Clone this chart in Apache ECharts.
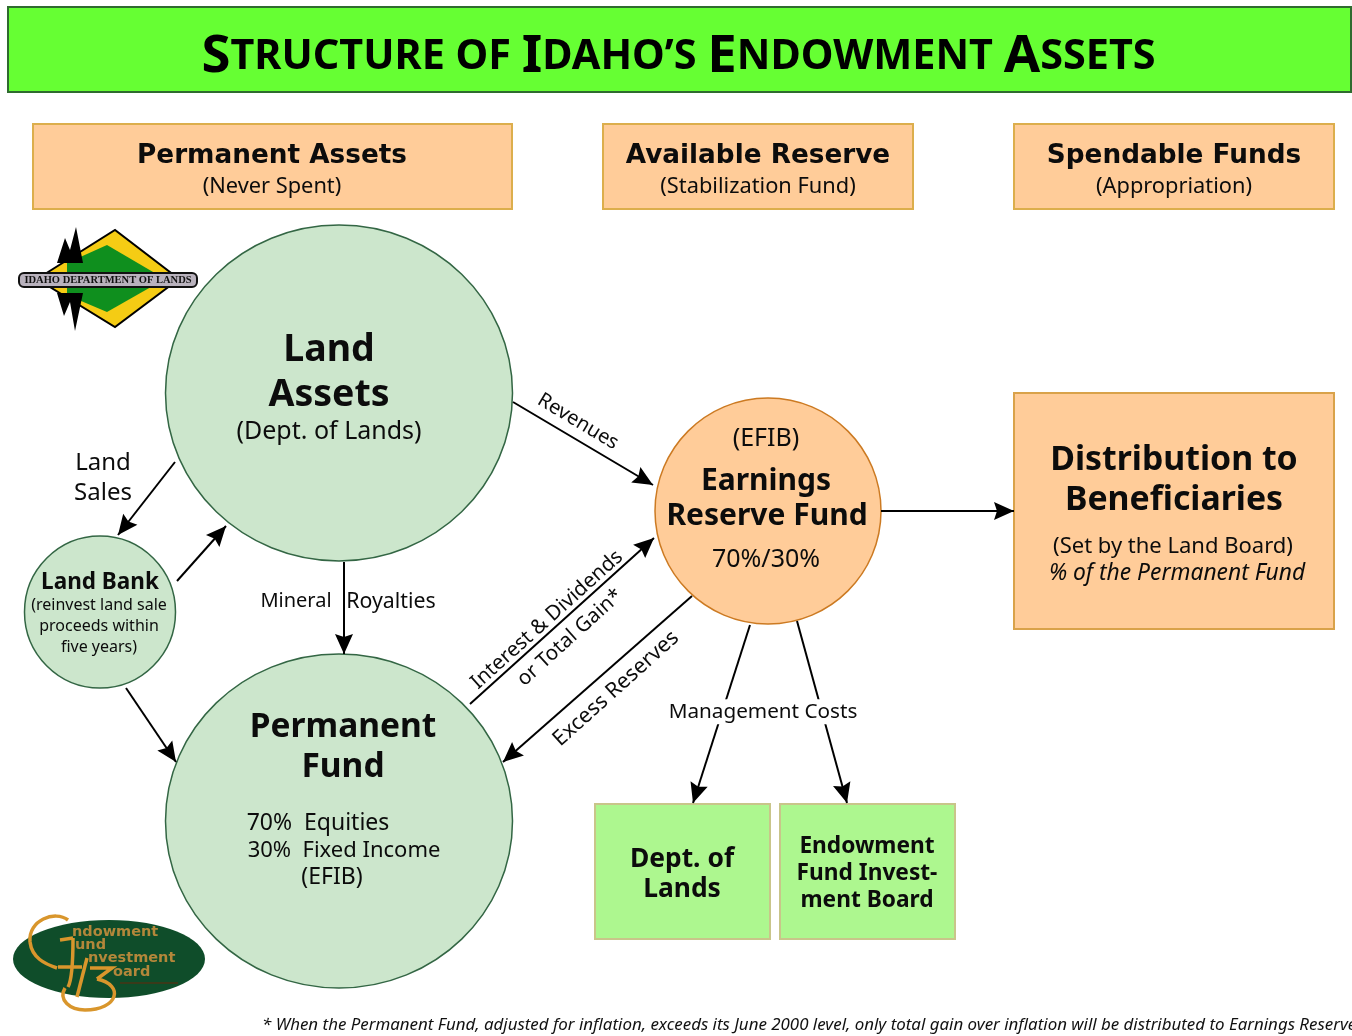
<!DOCTYPE html>
<html>
<head>
<meta charset="utf-8">
<title>Structure of Idaho's Endowment Assets</title>
<script src="https://cdn.jsdelivr.net/npm/echarts@6/dist/echarts.min.js"></script>
<style>
  html, body { margin: 0; padding: 0; background: #fff; }
  #chart { width: 1352px; height: 1036px; }
</style>
</head>
<body>
<div id="chart"></div>
<script>
// texts of the diagram
const titleText = 'Structure of Idaho\u2019s Endowment Assets';
const headerLines = ['Permanent Assets', '(Never Spent)', 'Available Reserve', '(Stabilization Fund)', 'Spendable Funds', '(Appropriation)'];
const landLines = ['Land', 'Assets', '(Dept. of Lands)'];
const landSalesLines = ['Land', 'Sales'];
const landBankLines = ['Land Bank', '(reinvest land sale', 'proceeds within', 'five years)'];
const permanentLines = ['Permanent', 'Fund', '70%  Equities', '30%  Fixed Income', '(EFIB)'];
const earningsLines = ['(EFIB)', 'Earnings', 'Reserve Fund', '70%/30%'];
const distributionLines = ['Distribution to', 'Beneficiaries', '(Set by the Land Board)', '% of the Permanent Fund'];
const deptLines = ['Dept. of', 'Lands'];
const boardLines = ['Endowment', 'Fund Invest-', 'ment Board'];
const flowLines = ['Mineral', 'Royalties', 'Revenues', 'Interest & Dividends', 'or Total Gain*', 'Excess Reserves', 'Management Costs'];
const footnote = '* When the Permanent Fund, adjusted for inflation, exceeds its June 2000 level, only total gain over inflation will be distributed to Earnings Reserve';

// layout, in page pixels
const REG = '"Noto Sans", sans-serif';
const WIDE = '"DejaVu Sans", sans-serif';
// arrow head with its tip at the middle of the path's box, so the tip lands on the line's end
const ARROW_HEAD = 'path://M0,0L9,20L0,17L-9,20Z M-20,-20L-20,-20 M20,20L20,20';

const boxes = [
  // x0, y0, x1, y1, fill, stroke
  [8, 7, 1351, 92, '#66ff33', '#2f6b2f'],
  [33, 124, 512, 209, '#ffcc99', '#dcae4c'],
  [603, 124, 913, 209, '#ffcc99', '#dcae4c'],
  [1014, 124, 1334, 209, '#ffcc99', '#dcae4c'],
  [1014, 393, 1334, 629, '#ffcc99', '#d9a24a'],
  [595, 804, 770, 939, '#adf78f', '#c9c58a'],
  [780, 804, 955, 939, '#adf78f', '#c9c58a']
];
const circles = [
  // cx, cy, rx, ry, fill, stroke
  [339, 393, 173.5, 168, '#cce6cc', '#336644'],
  [339, 821, 173.5, 167, '#cce6cc', '#336644'],
  [100, 612, 75.5, 76, '#cce6cc', '#336644'],
  [768, 511, 113, 113, '#ffcc99', '#cc7a22']
];
const arrows = [
  [[175, 462], [118, 535]],
  [[177, 581], [226, 526]],
  [[126, 688], [176, 762]],
  [[344, 562], [344, 654]],
  [[513, 402], [653, 485]],
  [[470, 704], [654, 538]],
  [[692, 596], [503, 762]],
  [[881, 511], [1014, 511]],
  [[750, 625], [693, 803]],
  [[797, 621], [847, 803]]
];

const textRows = [];
function addLines(lines, spots) {
  lines.forEach(function (line, i) {
    const s = spots[i];
    textRows.push({
      text: line, x: s[0], y: s[1], size: s[2],
      bold: s[3] === 'b' || s[3] === 'h', wide: s[3] === 'h',
      italic: s[3] === 'i', white: s[3] === 'w', angle: s[4] || 0
    });
  });
}
addLines(headerLines, [[272, 154, 26.3, 'h'], [272, 185, 21.8], [758, 154, 26.3, 'h'], [758, 185, 21.8], [1174, 154, 26.3, 'h'], [1174, 185, 21.8]]);
addLines(landLines, [[329, 347, 37.5, 'b'], [329, 392, 37.5, 'b'], [329, 430, 25]]);
addLines(landSalesLines, [[103, 461, 24], [103, 491, 24]]);
addLines(landBankLines, [[100, 581, 22.5, 'b'], [99, 604, 16], [99, 625, 16], [99, 646, 16]]);
addLines(permanentLines, [[343, 725, 33.5, 'b'], [343, 765, 33.5, 'b'], [318, 822, 23], [344, 849, 22], [332, 876, 23]]);
addLines(earningsLines, [[766, 437, 25], [766, 479, 30, 'b'], [767, 514, 30, 'b'], [766, 558, 25]]);
addLines(distributionLines, [[1174, 458, 33.8, 'b'], [1174, 498, 33.8, 'b'], [1173, 545, 22], [1177, 572, 22.8, 'i']]);
addLines(deptLines, [[682, 857, 26.4, 'b'], [682, 887, 26.4, 'b']]);
addLines(boardLines, [[867, 845, 22.7, 'b'], [867, 872, 22.7, 'b'], [867, 899, 22.7, 'b']]);
addLines(flowLines, [[296, 600, 20], [391, 600, 21.3], [578, 420, 20, '', 31], [547, 618, 20.5, '', -42], [570, 636, 20.5, '', -42], [616, 687, 21.4, '', -42], [763, 710, 20.7, 'w']]);

// small capitals: big letter for each capital, small for the rest
function smallCaps(s) {
  return s.split(' ').map(function (word) {
    const first = word[0];
    if (first === first.toUpperCase()) {
      return '{b|' + first + '}{s|' + word.slice(1).toUpperCase() + '}';
    }
    return '{s|' + word.toUpperCase() + '}';
  }).join('{s| }');
}

const chart = echarts.init(document.getElementById('chart'), null, { renderer: 'canvas' });

const indexData = function (arr) { return arr.map(function (_, i) { return i; }); };

function goldStroke(shapeType, shape) {
  return { type: shapeType, z: 7, shape: shape, style: { fill: 'none', stroke: '#d9962c', lineWidth: 3.5 } };
}
function bez(x1, y1, cpx1, cpy1, cpx2, cpy2, x2, y2) {
  return goldStroke('bezierCurve', { x1: x1, y1: y1, cpx1: cpx1, cpy1: cpy1, cpx2: cpx2, cpy2: cpy2, x2: x2, y2: y2 });
}
function badgeWord(word, x, y) {
  return { type: 'text', z: 8, x: x, y: y, style: { text: word, textVerticalAlign: 'middle', font: 'bold 14.5px "DejaVu Sans", sans-serif', fill: '#b3873a' } };
}

const option = {
  backgroundColor: '#ffffff',
  animation: false,
  title: {
    text: smallCaps(titleText),
    left: 673.5,
    top: 22,
    textAlign: 'center',
    z: 10,
    textStyle: {
      rich: {
        b: { fontFamily: REG, fontWeight: 'bold', fontSize: 52.7, color: '#000', lineHeight: 60 },
        s: { fontFamily: REG, fontWeight: 'bold', fontSize: 41.4, color: '#000', lineHeight: 60 }
      }
    }
  },
  grid: { left: 0, right: 0, top: 0, bottom: 0 },
  xAxis: { type: 'value', min: 0, max: 1352, show: false },
  yAxis: { type: 'value', min: 0, max: 1036, inverse: true, show: false },
  series: [
    {
      type: 'custom',
      name: 'boxes',
      coordinateSystem: 'cartesian2d',
      data: indexData(boxes),
      encode: { x: [], y: [] },
      clip: false,
      z: 1,
      renderItem: function (params, api) {
        const b = boxes[params.dataIndex];
        const p0 = api.coord([b[0], b[1]]);
        const p1 = api.coord([b[2], b[3]]);
        return {
          type: 'rect',
          shape: { x: p0[0], y: p0[1], width: p1[0] - p0[0], height: p1[1] - p0[1] },
          style: { fill: b[4], stroke: b[5], lineWidth: 2 }
        };
      }
    },
    {
      type: 'custom',
      name: 'circles',
      coordinateSystem: 'cartesian2d',
      data: indexData(circles),
      encode: { x: [], y: [] },
      clip: false,
      z: 2,
      renderItem: function (params, api) {
        const c = circles[params.dataIndex];
        const p = api.coord([c[0], c[1]]);
        return {
          type: 'ellipse',
          shape: { cx: p[0], cy: p[1], rx: c[2], ry: c[3] },
          style: { fill: c[4], stroke: c[5], lineWidth: 1.5 }
        };
      }
    },
    {
      type: 'lines',
      name: 'flows',
      coordinateSystem: 'cartesian2d',
      polyline: false,
      symbol: ['none', ARROW_HEAD],
      symbolSize: 40,
      z: 3,
      lineStyle: { color: '#000', width: 2, opacity: 1, curveness: 0 },
      data: arrows.map(function (a) { return { coords: a }; })
    },
    {
      type: 'custom',
      name: 'texts',
      coordinateSystem: 'cartesian2d',
      data: indexData(textRows),
      encode: { x: [], y: [] },
      clip: false,
      z: 5,
      renderItem: function (params, api) {
        const t = textRows[params.dataIndex];
        const p = api.coord([t.x, t.y]);
        return {
          type: 'text',
          x: p[0],
          y: p[1] + t.size * 0.08,
          rotation: -t.angle * Math.PI / 180,
          style: {
            text: t.text,
            textAlign: 'center',
            textVerticalAlign: 'middle',
            font: (t.italic ? 'italic ' : '') + (t.bold ? 'bold ' : '') + t.size + 'px ' + (t.wide ? WIDE : REG),
            fill: '#0c0c0c',
            backgroundColor: t.white ? '#fff' : null,
            padding: t.white ? [2, 1] : 0
          }
        };
      }
    }
  ],
  graphic: {
    elements: [
      // Department of Lands badge
      { type: 'polygon', z: 6, shape: { points: [[37, 279], [115, 230], [179, 279], [115, 327]] }, style: { fill: '#f5cc14', stroke: '#000', lineWidth: 2 } },
      { type: 'polygon', z: 6, shape: { points: [[67, 263], [107, 245], [165, 279], [107, 312], [67, 295]] }, style: { fill: '#0f8f1e' } },
      { type: 'polygon', z: 6, shape: { points: [[57, 263], [65, 238], [70, 250], [76, 227], [83, 263]] }, style: { fill: '#000' } },
      { type: 'polygon', z: 6, shape: { points: [[57, 293], [64, 316], [70, 302], [75, 331], [83, 293]] }, style: { fill: '#000' } },
      { type: 'rect', z: 7, shape: { x: 19, y: 273, width: 178, height: 14, r: 5 }, style: { fill: '#b9b2bd', stroke: '#111', lineWidth: 2 } },
      { type: 'text', z: 8, x: 108, y: 280, style: { text: 'IDAHO DEPARTMENT OF LANDS', textAlign: 'center', textVerticalAlign: 'middle', font: 'bold 10.5px "Liberation Serif", serif', fill: '#111' } },
      // Endowment Fund Investment Board badge
      { type: 'ellipse', z: 6, shape: { cx: 109, cy: 959, rx: 96, ry: 39 }, style: { fill: '#0f4d2a' } },
      bez(68, 920, 55, 910, 28, 920, 30, 942),
      bez(30, 942, 32, 958, 45, 964, 57, 968),
      goldStroke('line', { x1: 60, y1: 940, x2: 73, y2: 938 }),
      bez(73, 938, 73, 955, 72, 980, 68, 987),
      goldStroke('line', { x1: 58, y1: 967, x2: 82, y2: 967 }),
      goldStroke('line', { x1: 87, y1: 958, x2: 77, y2: 997 }),
      goldStroke('polyline', { points: [[90, 968], [112, 968], [97, 979]] }),
      bez(97, 979, 125, 985, 118, 1010, 85, 1010),
      bez(85, 1010, 70, 1010, 58, 1000, 65, 988),
      { type: 'line', z: 7, shape: { x1: 120, y1: 983, x2: 178, y2: 983 }, style: { stroke: '#3a3a1a', lineWidth: 2 } },
      badgeWord('ndowment', 72, 932),
      badgeWord('und', 75, 945),
      badgeWord('nvestment', 88, 958),
      badgeWord('oard', 113, 972),
      // footnote runs off the right edge, as in the source slide
      { type: 'text', z: 8, x: 262, y: 1025, style: { text: footnote, textVerticalAlign: 'middle', font: 'italic 16.9px "Noto Sans", sans-serif', fill: '#111' } }
    ]
  }
};

chart.setOption(option);
</script>
</body>
</html>
